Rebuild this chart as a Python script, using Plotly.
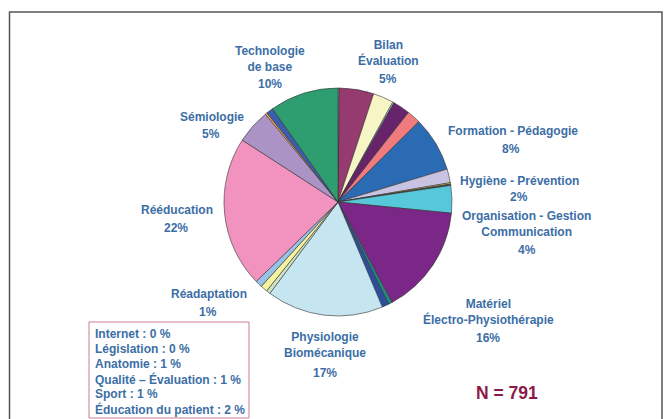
import plotly.graph_objects as go

# Slices, clockwise from 12 o'clock
slice_labels = [
    "Internet", "Bilan Évaluation", "Autre (a)", "Législation", "Autre (b)",
    "Éducation du patient", "Formation - Pédagogie", "Hygiène - Prévention",
    "Autre (c)", "Autre (d)", "Organisation - Gestion Communication",
    "Matériel Électro-Physiothérapie", "Autre (e)", "Sport",
    "Physiologie Biomécanique", "Autre (f)", "Anatomie", "Réadaptation",
    "Rééducation", "Sémiologie", "Autre (g)", "Qualité – Évaluation",
    "Technologie de base",
]
slice_values = [
    0.2, 5, 3.0, 0.2, 2.5,
    2, 8, 2,
    0.2, 0.2, 4,
    16, 0.55, 1,
    17, 0.6, 1, 1,
    22, 5, 0.3, 1,
    10,
]
slice_colors = [
    "#9A98CF", "#953B6F", "#F7F5C6", "#A9DCE3", "#67246B",
    "#F07B7F", "#2A6BB3", "#C8C3E2",
    "#EEE03A", "#4B4B5A", "#57C8D9",
    "#7B2787", "#1F8B80", "#2D4E9E",
    "#C5E5F0", "#CDE3C3", "#F6F29E", "#97C3E8",
    "#F193BE", "#AB93C6", "#F2A14F", "#3A5DAF",
    "#2E9D70",
]

# Category captions around the pie: (name lines, percent text)
caption_names = [
    "Technologie<br>de base", "Bilan<br>Évaluation", "Sémiologie",
    "Formation - Pédagogie", "Hygiène - Prévention",
    "Organisation - Gestion<br>Communication",
    "Matériel<br>Électro-Physiothérapie", "Physiologie<br>Biomécanique",
    "Rééducation", "Réadaptation",
]
caption_pcts = ["10%", "5%", "5%", "8%", "2%", "4%", "16%", "17%", "22%", "1%"]

# Minor categories listed in the framed box
minor_lines = [
    "Internet : 0 %", "Législation : 0 %", "Anatomie : 1 %",
    "Qualité – Évaluation : 1 %", "Sport : 1 %", "Éducation du patient : 2 %",
]
total_text = "N = 791"

W, H = 668, 419
FONT = "Liberation Sans, Arial, sans-serif"
BLUE = "#3C6EA6"


def px(x, y):
    return x / W, 1 - y / H


# pixel anchors: (name centre x, name centre y, pct centre x, pct centre y)
caption_pos = [
    (270, 59, 270, 84),
    (388, 53, 388, 79),
    (212, 117, 211, 134),
    (513, 131, 511, 149),
    (519, 181, 519, 197),
    (526, 224, 527, 250),
    (488, 312, 488, 338),
    (325, 345, 325, 373),
    (177, 210, 176, 228),
    (209, 294, 208, 312),
]

cx, cy, r = 338, 202, 114

fig = go.Figure(go.Pie(
    labels=slice_labels,
    values=slice_values,
    sort=False,
    direction="clockwise",
    rotation=0,
    textinfo="none",
    hoverinfo="label+percent",
    marker=dict(colors=slice_colors, line=dict(color="#333333", width=0.6)),
    domain=dict(x=[(cx - r) / W, (cx + r) / W], y=[(H - cy - r) / H, (H - cy + r) / H]),
    showlegend=False,
))

annotations = []
for name, pct, (nx, ny, qx, qy) in zip(caption_names, caption_pcts, caption_pos):
    x, y = px(nx, ny)
    annotations.append(dict(x=x, y=y, xref="paper", yref="paper", text=f"<b>{name}</b>",
                            showarrow=False, xanchor="center", yanchor="middle",
                            font=dict(family=FONT, size=12, color=BLUE)))
    x, y = px(qx, qy)
    annotations.append(dict(x=x, y=y, xref="paper", yref="paper", text=f"<b>{pct}</b>",
                            showarrow=False, xanchor="center", yanchor="middle",
                            font=dict(family=FONT, size=12, color=BLUE)))

for i, line in enumerate(minor_lines):
    x, y = px(93, 334 + 15 * i)
    annotations.append(dict(x=x, y=y, xref="paper", yref="paper", text=f"<b>{line}</b>",
                            showarrow=False, xanchor="left", yanchor="middle",
                            font=dict(family=FONT, size=12, color=BLUE)))

x, y = px(507, 393)
annotations.append(dict(x=x, y=y, xref="paper", yref="paper", text=f"<b>{total_text}</b>",
                        showarrow=False, xanchor="center", yanchor="middle",
                        font=dict(family=FONT, size=17.5, color="#8B1A4A")))

bx0, by0 = px(89, 322)
bx1, by1 = px(249, 418)
fx0, fy0 = px(9.5, 12)
fx1, fy1 = px(662, 440)

fig.update_layout(
    width=W, height=H,
    margin=dict(l=0, r=0, t=0, b=0),
    paper_bgcolor="white",
    plot_bgcolor="white",
    annotations=annotations,
    shapes=[
        dict(type="rect", xref="paper", yref="paper", x0=fx0, y0=fy1, x1=fx1, y1=fy0,
             line=dict(color="#555555", width=1.5)),
        dict(type="rect", xref="paper", yref="paper", x0=bx0, y0=by1, x1=bx1, y1=by0,
             line=dict(color="#D07A95", width=1)),
    ],
)

fig.write_html("out.html")
